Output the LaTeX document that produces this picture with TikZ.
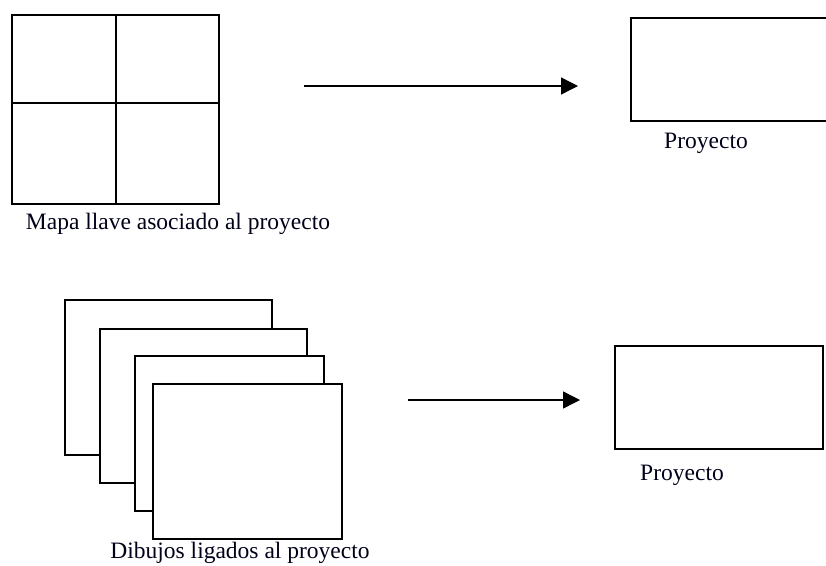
\documentclass[tikz,border=0pt]{standalone}
\usepackage{fontspec}
\setmainfont{Liberation Serif}
\usetikzlibrary{arrows.meta}
\begin{document}
\begin{tikzpicture}[x=1pt,y=-1pt,
  box/.style={draw=black,line width=1.6pt,fill=white,rectangle,inner sep=0pt,anchor=north west},
  divider/.style={line width=1.8pt},
  lbl/.style={font=\fontsize{23.5}{28}\selectfont,inner sep=0pt,text=black!90!blue},
  conn/.style={line width=1.4pt,-{Triangle[length=17pt,width=17pt]}}]
\useasboundingbox (0,0) rectangle (826,565);
% top-left grid
\node[box,minimum width=207pt,minimum height=189pt] (grid) at (11,14) {};
\draw[divider] (grid.north) ++(0.5,0) coordinate (gt) -- (gt |- grid.south);
\draw[divider] ([yshift=-89pt]grid.north west) coordinate (gl) -- (gl -| grid.east);
\node[lbl] (t1) at (178,224) {Mapa llave asociado al proyecto};
% top arrow
\coordinate (a1s) at (304,86);
\coordinate (a1e) at (578,86);
\draw[conn] (a1s) -- (a1e);
% top-right box
\node[box,minimum width=220pt,minimum height=103pt] (p1) at (630,17) {};
\node[lbl] (t2) at (706,143) {Proyecto};
% stacked drawings
\node[box,minimum width=207pt,minimum height=155pt] (d1) at (64,299) {};
\node[box,minimum width=207pt,minimum height=154pt] (d2) at (99,328) {};
\node[box,minimum width=189pt,minimum height=155pt] (d3) at (134,355) {};
\node[box,minimum width=189pt,minimum height=155pt] (d4) at (152,383) {};
\node[lbl] (t3) at (240,553) {Dibujos ligados al proyecto};
% bottom arrow
\coordinate (a2s) at (408,400);
\coordinate (a2e) at (580,400);
\draw[conn] (a2s) -- (a2e);
% bottom-right box
\node[box,minimum width=208pt,minimum height=103pt] (p2) at (614,345) {};
\node[lbl] (t4) at (682,475) {Proyecto};
\end{tikzpicture}
\end{document}
